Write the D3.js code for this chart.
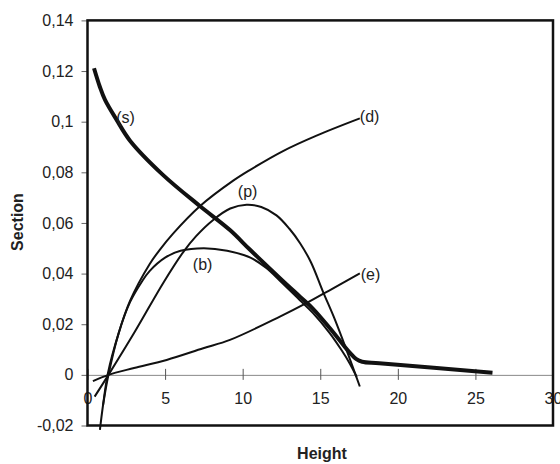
<!DOCTYPE html>
<html>
<head>
<meta charset="utf-8">
<script src="https://cdn.jsdelivr.net/npm/d3@7"></script>
<style>
  body { margin: 0; background: #fff; }
  text { font-family: Arial, "Liberation Sans", sans-serif; }
</style>
</head>
<body>
<div id="chart"></div>
<script>
// curve data: [height, section]
var curveS = [[0.42, 0.1211], [0.8, 0.1137], [1.13, 0.1086], [1.88, 0.1007], [2.74, 0.0925],
    [4.86, 0.0790], [7.24, 0.0667], [9.18, 0.0572], [10.46, 0.0495], [12.4, 0.0382],
    [13.69, 0.0309], [14.52, 0.0262], [15.61, 0.0185], [16.4, 0.0125], [16.9, 0.0088],
    [17.33, 0.0062], [17.7, 0.0052], [18.8, 0.0046], [26.1, 0.0008]];

var curveD = [[0.8, -0.0217], [1.0, -0.012], [1.32, 0.0008], [2.0, 0.0163], [2.74, 0.0292],
    [4.0, 0.0437], [4.67, 0.0495], [5.5, 0.0557], [7.24, 0.0666], [9.39, 0.0767],
    [10.46, 0.0809], [12.6, 0.0884], [14.76, 0.0945], [17.55, 0.1013]];

var curveP = [[0.46, -0.0086], [1.35, 0], [3.0, 0.0165], [4.9, 0.0365], [6.17, 0.0485],
    [7.0, 0.0548], [8.1, 0.0612], [9.2, 0.0657], [10.25, 0.0672], [11.2, 0.0663],
    [12.18, 0.0630], [13.0, 0.0578], [13.7, 0.052], [14.4, 0.0445], [15.18, 0.0328],
    [15.9, 0.0225], [16.69, 0.0099], [17.55, -0.0046]];

var curveB = [[1.0, -0.012], [1.35, 0], [2.0, 0.0163], [2.74, 0.0287], [3.5, 0.0368],
    [4.0, 0.041], [5.0, 0.0463], [6.0, 0.049], [7.5, 0.05], [9.0, 0.049],
    [10.5, 0.0463], [11.5, 0.0423], [12.4, 0.0372], [13.69, 0.0295], [14.52, 0.0245],
    [15.61, 0.0165], [16.4, 0.0095], [16.9, 0.0045], [17.35, -0.0008]];

var curveE = [[0.35, -0.0025], [1.35, 0], [3.0, 0.0027], [5.1, 0.0059], [7.46, 0.0105],
    [9.18, 0.0138], [12.4, 0.023], [14.1, 0.0283], [15.8, 0.0341], [17.55, 0.0401]];

var labelText = ["(s)", "(p)", "(b)", "(d)", "(e)"];
var labelAt = [[1.85, 0.0993], [9.69, 0.0701], [6.79, 0.0413], [17.55, 0.0999], [17.61, 0.0373]];

var xTicks = [0, 5, 10, 15, 20, 25, 30];
var yTicks = [-0.02, 0, 0.02, 0.04, 0.06, 0.08, 0.1, 0.12, 0.14];

var svgWidth = 560;
var svgHeight = 464;

var svg = d3.select("#chart")
    .append("svg")
    .attr("width", svgWidth)
    .attr("height", svgHeight);

var x = d3.scaleLinear().domain([0, 30]).range([87.5, 553]);
var y = d3.scaleLinear().domain([-0.02, 0.14]).range([425.5, 20.4]);

var fmt = d => String(+d.toFixed(2)).replace(".", ",");

// y axis
var yAxis = svg.append("g")
    .attr("transform", `translate(${x(0)}, 0)`)
    .call(d3.axisLeft(y).tickValues(yTicks).tickFormat(fmt).tickSize(6).tickPadding(8));
yAxis.select(".domain").remove();
yAxis.selectAll("line").attr("stroke", "#666");
yAxis.selectAll("text").attr("font-size", 16).attr("fill", "#222")
    .style("font-family", "Arial, 'Liberation Sans', sans-serif");

// x axis on the zero line
var xAxis = svg.append("g")
    .attr("transform", `translate(0, ${y(0)})`)
    .call(d3.axisBottom(x).tickValues(xTicks).tickSize(5).tickSizeOuter(0));
xAxis.select(".domain").attr("stroke", "#888");
xAxis.selectAll("line").attr("stroke", "#555").attr("y1", -6);
xAxis.selectAll("text").attr("font-size", 16).attr("fill", "#222").attr("y", 18)
    .style("font-family", "Arial, 'Liberation Sans', sans-serif");

// frame
svg.append("rect")
    .attr("x", x(0))
    .attr("y", y(0.14))
    .attr("width", x(30) - x(0))
    .attr("height", y(-0.02) - y(0.14))
    .attr("fill", "none")
    .attr("stroke", "#111")
    .attr("stroke-width", 2.5);

var line = d3.line()
    .x(d => x(d[0]))
    .y(d => y(d[1]))
    .curve(d3.curveCatmullRom.alpha(0.5));

[curveD, curveP, curveB, curveE].forEach(function (c) {
    svg.append("path")
        .attr("d", line(c))
        .attr("fill", "none")
        .attr("stroke", "#111")
        .attr("stroke-width", 2);
});

svg.append("path")
    .attr("d", line(curveS))
    .attr("fill", "none")
    .attr("stroke", "#111")
    .attr("stroke-width", 4);

svg.selectAll(".clabel")
    .data(labelText)
    .enter()
    .append("text")
    .attr("class", "clabel")
    .attr("x", (d, i) => x(labelAt[i][0]))
    .attr("y", (d, i) => y(labelAt[i][1]))
    .attr("font-size", 16)
    .attr("fill", "#222")
    .text(d => d);

// axis titles
svg.append("text")
    .attr("x", 322)
    .attr("y", 459)
    .attr("text-anchor", "middle")
    .attr("font-size", 16)
    .attr("font-weight", "bold")
    .attr("fill", "#222")
    .text("Height");

svg.append("text")
    .attr("transform", "translate(22.5, 222) rotate(-90)")
    .attr("text-anchor", "middle")
    .attr("font-size", 16)
    .attr("font-weight", "bold")
    .attr("fill", "#222")
    .text("Section");
</script>
</body>
</html>
